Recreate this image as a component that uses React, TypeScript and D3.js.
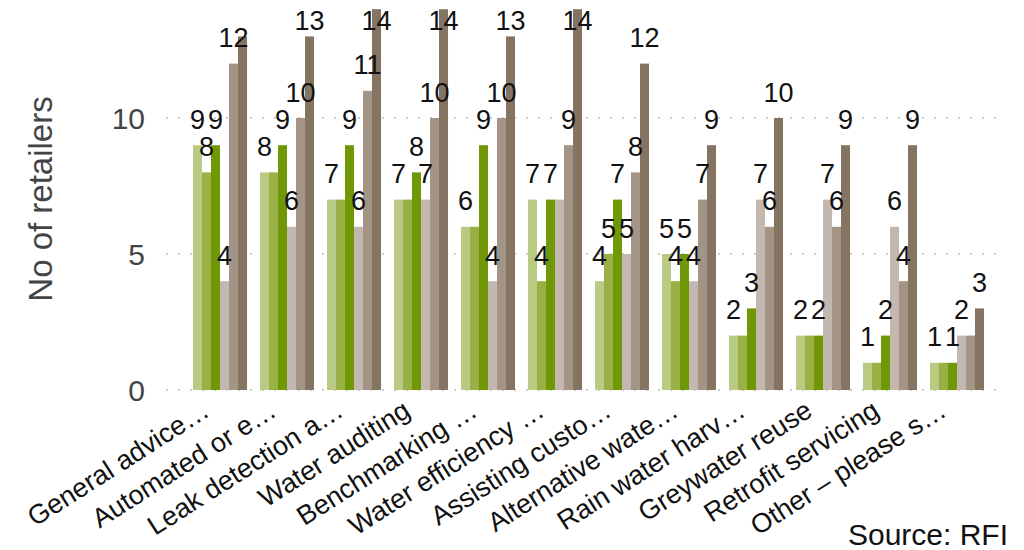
import React from "react";
import * as d3 from "d3";

// Services offered by retailers (categories on the x axis)
const categories = [
  "General advice…",
  "Automated or e…",
  "Leak detection a…",
  "Water auditing",
  "Benchmarking …",
  "Water efficiency …",
  "Assisting custo…",
  "Alternative wate…",
  "Rain water harv…",
  "Greywater reuse",
  "Retrofit servicing",
  "Other – please s…",
];

// Six response series, one value per category
const series1 = [9, 8, 7, 7, 6, 7, 4, 5, 2, 2, 1, 1];
const series2 = [8, 8, 7, 7, 6, 4, 5, 4, 2, 2, 1, 1];
const series3 = [9, 9, 9, 8, 9, 7, 7, 5, 3, 2, 2, 1];
const series4 = [4, 6, 6, 7, 4, 7, 5, 4, 7, 7, 6, 2];
const series5 = [12, 10, 11, 10, 10, 9, 8, 7, 6, 6, 4, 2];
const series6 = [13, 13, 14, 14, 13, 14, 12, 9, 10, 9, 9, 3];

const seriesList = [series1, series2, series3, series4, series5, series6];
const seriesColors = ["#b9ca82", "#98b044", "#709706", "#c2b8af", "#a39485", "#857462"];

const yTicks = [0, 5, 10];
const yTitle = "No of retailers";
const sourceNote = "Source: RFI";

const FONT = "'Liberation Sans', Arial, sans-serif";
const LABEL_SIZE = 27;
const CAP = 0.716 * LABEL_SIZE;
const DIGIT_W = 0.556 * LABEL_SIZE;

type Label = { x: number; y: number; text: string; box: [number, number, number, number] };

export default function App() {
  const width = 1024;
  const height = 550;

  const x = d3
    .scaleBand<string>()
    .domain(categories)
    .range([193, 984])
    .paddingInner(0.1937)
    .paddingOuter(0);

  const xInner = d3
    .scaleBand<number>()
    .domain(d3.range(seriesList.length))
    .range([0, x.bandwidth()])
    .padding(0);

  const y = d3.scaleLinear().domain([0, 10]).range([390, 118]);

  const gridX0 = 166;
  const gridX1 = 1000;

  // Value labels sit above each bar; a label that would collide with one
  // already placed in the same group is skipped.
  const labels: Label[] = [];
  categories.forEach((cat, ci) => {
    const placed: Label[] = [];
    seriesList.forEach((s, si) => {
      const v = s[ci];
      const cx = (x(cat) as number) + (xInner(si) as number) + xInner.bandwidth() / 2;
      let base = y(v) - 16.5;
      if (base < 30) base = 30;
      const text = String(v);
      const w = DIGIT_W * text.length;
      const box: [number, number, number, number] = [cx - w / 2, base - CAP, cx + w / 2, base];
      const hit = placed.some(
        (p) => box[0] < p.box[2] && box[2] > p.box[0] && box[1] < p.box[3] && box[3] > p.box[1]
      );
      if (!hit) {
        const lab = { x: cx, y: base, text, box };
        placed.push(lab);
        labels.push(lab);
      }
    });
  });

  return (
    <svg
      width={width}
      height={height}
      style={{ position: "absolute", left: 0, top: 0, background: "#fff" }}
      fontFamily={FONT}
    >
      {/* dotted gridlines */}
      {yTicks.map((t) => (
        <line
          key={"g" + t}
          x1={gridX0}
          x2={gridX1}
          y1={y(t)}
          y2={y(t)}
          stroke="#cccccc"
          strokeWidth={2}
          strokeDasharray="2 10"
        />
      ))}

      {/* y tick labels */}
      {yTicks.map((t) => (
        <text
          key={"t" + t}
          x={145}
          y={y(t)}
          dy="0.36em"
          textAnchor="end"
          fontSize={30}
          fill="#444444"
        >
          {t}
        </text>
      ))}

      {/* y axis title */}
      <text
        transform={`translate(52, 199) rotate(-90)`}
        textAnchor="middle"
        fontSize={33}
        fill="#444444"
      >
        {yTitle}
      </text>

      {/* bars */}
      {categories.map((cat, ci) => (
        <g key={cat} transform={`translate(${x(cat)},0)`}>
          {seriesList.map((s, si) => (
            <rect
              key={si}
              x={xInner(si)}
              y={y(s[ci])}
              width={xInner.bandwidth()}
              height={y(0) - y(s[ci])}
              fill={seriesColors[si]}
            />
          ))}
        </g>
      ))}

      {/* value labels */}
      {labels.map((l, i) => (
        <text key={i} x={l.x} y={l.y} textAnchor="middle" fontSize={LABEL_SIZE} fill="#111111">
          {l.text}
        </text>
      ))}

      {/* category labels */}
      {categories.map((cat) => (
        <text
          key={"c" + cat}
          transform={`translate(${(x(cat) as number) + x.bandwidth() / 2 - 9}, 415) rotate(-32.5)`}
          textAnchor="end"
          fontSize={27}
          fill="#111111"
        >
          {cat}
        </text>
      ))}

      <text x={1008} y={545} textAnchor="end" fontSize={30} fill="#111111">
        {sourceNote}
      </text>
    </svg>
  );
}
